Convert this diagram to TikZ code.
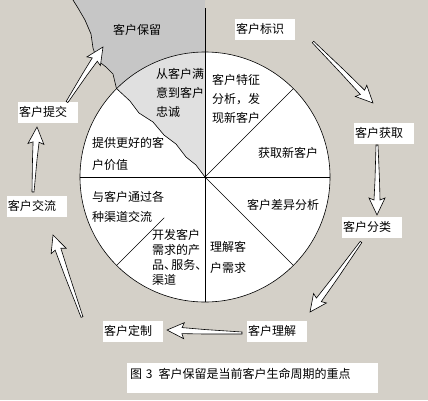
\documentclass[tikz,border=0pt]{standalone}
\usepackage{fontspec}
\setmainfont{Noto Sans CJK SC}
\usetikzlibrary{calc}
\definecolor{winbg}{HTML}{D4D0C8}
\definecolor{keepgray}{HTML}{C6C6C6}
\definecolor{keephatch}{HTML}{E0E0E0}

\tikzset{
  outlbl/.style={fill=white, inner xsep=1pt, inner ysep=0pt, text width=58pt,
    minimum height=21pt, align=left, font=\fontsize{12}{14}\selectfont},
  sector/.style={inner sep=0pt, align=left, anchor=west, font=\fontsize{12}{19}\selectfont},
  arrowbody/.style={draw=black, fill=white, line width=0.6pt, line join=miter},
  spoke/.style={draw=black, line width=0.6pt}
}

% freccia vuota da #1 a #2
\newcommand{\hollowarrow}[2]{%
  \path let \p1=(#1), \p2=(#2), \n1={atan2(\y2-\y1,\x2-\x1)}, \n2={veclen(\x2-\x1,\y2-\y1)}
    in \pgfextra{\xdef\harang{\n1}\xdef\harlen{\n2}};
  \begin{scope}[shift={(#1)}, rotate=\harang]
    \draw[arrowbody] (0,-1) -- ({\harlen*0.5},-2.5) -- ({\harlen-15},-3) -- ({\harlen-17},-8)
      -- (\harlen,0) -- ({\harlen-17},8) -- ({\harlen-15},3) -- ({\harlen*0.5},2) -- (0,1) -- cycle;
  \end{scope}}

\begin{document}
\begin{tikzpicture}[x=1pt, y=-1pt]
  \fill[winbg] (0,0) rectangle (428,400);
  \useasboundingbox (0,0) rectangle (428,400);

  \node[circle, fill=white, minimum size=250pt, inner sep=0pt] (wheel) at (205,177) {};
  % zona "客户保留" sopra il cerchio
  \fill[keepgray] (73,0) -- (78,8) -- (85,20) -- (91,34) -- (93,48) -- (97,60) -- (106,67)
    -- (113,74) -- (wheel.135) arc[start angle=-135, end angle=-90, radius=125] -- (205,0) -- cycle;
  % spicchio tratteggiato
  \fill[keephatch] (wheel.center) -- (196,165) -- (186,157) -- (176,144) -- (164,135) -- (153,122)
    -- (139,113) -- (130,101) -- (wheel.135) arc[start angle=-135, end angle=-90, radius=125] -- cycle;
  \draw[spoke] (wheel.center) circle[radius=125];

  % raggi
  \coordinate (keeptop) at (205,8);
  \draw[spoke] (wheel.west) -- (wheel.east);
  \draw[spoke, line width=1pt] (keeptop) -- (wheel.south);
  \draw[spoke] (wheel.center) -- (wheel.45);
  \draw[spoke] (wheel.center) -- (wheel.-45);
  \draw[spoke] ($(wheel.center)!0.46!(wheel.-135)$) -- (wheel.-135);
  \draw[spoke] (73,0) -- (78,8) -- (85,20) -- (91,34) -- (93,48) -- (97,60) -- (106,67) -- (113,74)
    -- (wheel.135) -- (130,101) -- (139,113) -- (153,122) -- (164,135) -- (176,144) -- (186,157)
    -- (196,165) -- (wheel.center);

  % testi degli spicchi
  \node[sector] (feat) at (212,99) {客户特征\\分析，发\\现新客户};
  \node[sector, anchor=center] (newc) at (288,153) {获取新客户};
  \node[sector, anchor=center] (diff) at (283,205) {客户差异分析};
  \node[sector, font=\fontsize{12}{21}\selectfont] (need) at (210,257) {理解客\\户需求};
  \node[sector, font=\fontsize{12}{15}\selectfont] (dev) at (152,257) {开发客户\\需求的产\\品、\kern-.4em服务、\\渠道};
  \node[sector, font=\fontsize{12}{20}\selectfont] (chan) at (92,207) {与客户通过各\\种渠道交流};
  \node[sector, font=\fontsize{12}{22}\selectfont] (value) at (92,154) {提供更好的客\\户价值};
  \node[sector] (loyal) at (156,93) {从客户满\\意到客户\\忠诚};
  \node[inner sep=0pt, font=\fontsize{12}{14}\selectfont] (keep) at (137,30) {客户保留};

  % fasi del ciclo
  \node[outlbl] (ident) at (265,29) {客户标识};
  \node[outlbl] (acq) at (384,133) {客户获取};
  \node[outlbl] (seg) at (372,227) {客户分类};
  \node[outlbl] (und) at (277,331) {客户理解};
  \node[outlbl] (cust) at (133,331) {客户定制};
  \node[outlbl] (comm) at (37,206) {客户交流};
  \node[outlbl] (subm) at (48,112) {客户提交};

  % frecce tra le fasi
  \foreach \i/\tx/\ty/\hx/\hy in {1/313/42/373/103, 2/377/145/377/215, 3/361/242/310/312,
      4/242/333/167/330, 5/82/317/53/235, 6/33/192/37/127, 7/67/102/103/47}{
    \coordinate (t\i) at (\tx,\ty);
    \coordinate (h\i) at (\hx,\hy);
    \hollowarrow{t\i}{h\i}
  }

  \node[fill=white, inner xsep=3pt, inner ysep=3pt, text width=245pt, text height=12pt,
    text depth=12pt, align=left, font=\fontsize{12}{14}\selectfont] (caption) at (252.5,378)
    {图 3\enspace 客户保留是当前客户生命周期的重点};
\end{tikzpicture}
\end{document}
